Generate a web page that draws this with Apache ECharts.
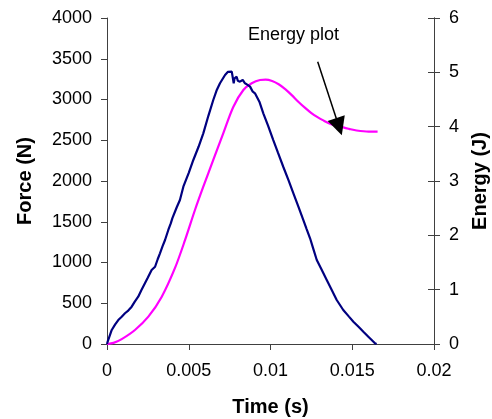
<!DOCTYPE html>
<html>
<head>
<meta charset="utf-8">
<script src="https://cdn.jsdelivr.net/npm/echarts@6/dist/echarts.min.js"></script>
<style>html,body{margin:0;padding:0;background:#fff;overflow:hidden;}#c{width:492px;height:419px;}</style>
</head>
<body>
<div id="c"></div>
<script>
// Force vs time (navy)
var forceTime = [0,0.00004,0.00029,0.0005,0.00069,0.0009,0.0011,0.0013,0.00151,0.0017,0.00191,0.0021,0.00232,0.0025,0.00273,0.00294,0.0031,0.00324,0.0034,0.00355,0.00375,0.0039,0.004,0.00406,0.00426,0.00446,0.00467,0.005,0.00528,0.0056,0.00589,0.0062,0.0065,0.0067,0.00691,0.00722,0.0074,0.00752,0.00763,0.0077,0.00775,0.0078,0.00793,0.008,0.00813,0.0083,0.00844,0.0086,0.00875,0.0089,0.00905,0.00932,0.00956,0.00985,0.01017,0.01045,0.01078,0.0111,0.0114,0.0117,0.01201,0.01221,0.01242,0.0126,0.01283,0.0131,0.01344,0.0137,0.01405,0.01445,0.0148,0.01507,0.0154,0.01568,0.016,0.01619,0.01639,0.01649];
var forceValue = [0,28,172,240,294,335,377,410,458,520,580,660,745,815,908,948,1040,1113,1200,1276,1399,1480,1545,1525,1675,1767,1930,2100,2258,2420,2585,2800,2994,3110,3199,3301,3340,3362,3342,3260,3199,3260,3280,3230,3219,3240,3199,3180,3158,3100,3076,2973,2831,2680,2503,2350,2175,2010,1849,1690,1521,1410,1297,1180,1031,922,785,680,540,417,336,274,208,151,87,49,8,0];
// Energy vs time (magenta)
var energyTime = [0,0.0004,0.0009,0.00171,0.00253,0.00335,0.00416,0.00477,0.00538,0.00589,0.0065,0.00711,0.00773,0.00834,0.00885,0.00936,0.0097,0.0101,0.0105,0.0109,0.0113,0.0117,0.0121,0.0125,0.0129,0.0132,0.0136,0.01425,0.0148,0.01527,0.016,0.01655];
var energyValue = [0,0.02,0.09,0.258,0.503,0.871,1.40,1.91,2.466,2.895,3.387,3.878,4.368,4.675,4.798,4.859,4.865,4.84,4.78,4.69,4.58,4.46,4.35,4.25,4.17,4.12,4.06,4.0,3.96,3.93,3.91,3.91];
// Axis ticks
var xTicks = [0,0.005,0.01,0.015,0.02];
var forceTicks = [0,500,1000,1500,2000,2500,3000,3500,4000];
var energyTicks = [0,1,2,3,4,5,6];
// Annotation arrow [time, energy]
var arrowFrom = [0.012887, 5.196];
var arrowTo = [0.01419, 4.0];

var FF = 'Liberation Sans, Arial, sans-serif';
var axisCol = '#404040';
function zip(a,b){return a.map(function(v,i){return [v,b[i]];});}
function fmt(v){return String(v);}

var chart = echarts.init(document.getElementById('c'));
chart.setOption({
  animation:false,
  backgroundColor:'#fff',
  grid:{left:107,right:58,top:18,bottom:75,containLabel:false,outerBoundsMode:'none'},
  xAxis:{type:'value',min:xTicks[0],max:xTicks[xTicks.length-1],interval:0.005,
    name:'Time (s)',nameLocation:'middle',nameGap:53,
    nameTextStyle:{fontFamily:FF,fontSize:20,fontWeight:'bold',color:'#000'},
    axisLine:{lineStyle:{color:axisCol,width:1}},
    axisTick:{inside:false,length:6,lineStyle:{color:axisCol}},
    axisLabel:{margin:18,fontFamily:FF,fontSize:18,color:'#000',formatter:fmt},
    splitLine:{show:false}},
  yAxis:[
    {type:'value',position:'left',min:forceTicks[0],max:forceTicks[forceTicks.length-1],interval:500,
      name:'Force (N)',nameLocation:'middle',nameGap:72,nameRotate:90,
      nameTextStyle:{fontFamily:FF,fontSize:20,fontWeight:'bold',color:'#000'},
      axisLine:{show:true,lineStyle:{color:axisCol}},
      axisTick:{show:true,inside:false,length:6,lineStyle:{color:axisCol}},
      axisLabel:{margin:15,fontFamily:FF,fontSize:18,color:'#000',formatter:fmt},
      splitLine:{show:false}},
    {type:'value',position:'right',min:energyTicks[0],max:energyTicks[energyTicks.length-1],interval:1,
      name:'Energy (J)',nameLocation:'middle',nameGap:36,nameRotate:90,
      nameTextStyle:{fontFamily:FF,fontSize:20,fontWeight:'bold',color:'#000'},
      axisLine:{show:true,lineStyle:{color:axisCol}},
      axisTick:{show:true,inside:false,length:6,lineStyle:{color:axisCol}},
      axisLabel:{margin:15,fontFamily:FF,fontSize:18,color:'#000',formatter:fmt},
      splitLine:{show:false}},
    {type:'value',position:'right',offset:0,min:energyTicks[0],max:energyTicks[energyTicks.length-1],interval:1,
      axisLine:{show:true,lineStyle:{color:axisCol}},
      axisTick:{show:true,inside:true,length:6,lineStyle:{color:axisCol}},
      axisLabel:{show:false},splitLine:{show:false}}
  ],
  series:[
    {type:'line',name:'Force',xAxisIndex:0,yAxisIndex:0,data:zip(forceTime,forceValue),
      showSymbol:false,symbol:'none',lineStyle:{color:'#000080',width:2.2},z:3},
    {type:'line',name:'Energy',xAxisIndex:0,yAxisIndex:1,data:zip(energyTime,energyValue),
      showSymbol:false,symbol:'none',smooth:0.3,lineStyle:{color:'#FF00FF',width:2.2},z:2,
      markLine:{silent:true,animation:false,symbol:['none','triangle'],symbolSize:[18,18],
        label:{show:false},lineStyle:{color:'#000',width:1.5,type:'solid'},
        data:[[{coord:arrowFrom},{coord:arrowTo}]]}}
  ],
  graphic:[{type:'text',left:248,top:26,style:{text:'Energy plot',fontFamily:FF,fontSize:18,fill:'#000'}}]
});
</script>
</body>
</html>
